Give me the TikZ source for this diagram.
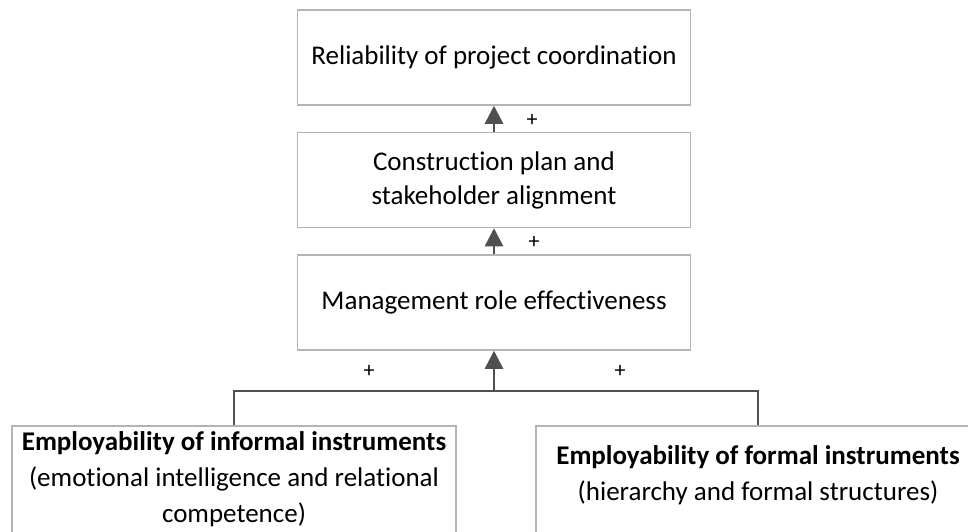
\documentclass[tikz,border=0pt]{standalone}
\usepackage{fontspec}
\setmainfont{Carlito}[RawFeature={-liga;-dlig}]
\usetikzlibrary{arrows.meta,positioning}
\definecolor{boxgray}{HTML}{B4B4B4}
\definecolor{linkgray}{HTML}{505050}
\tikzset{
    box/.style={draw=boxgray, line width=0.75pt, rectangle, align=flush center,
        minimum width=196.5pt, minimum height=47.5pt,
        font=\fontsize{13.5}{17}\selectfont},
    basebox/.style={box, anchor=north, minimum width=222pt, text width=218pt,
        inner xsep=2pt, text depth=60pt, font=\fontsize{13.5}{18}\selectfont},
    link/.style={draw=linkgray, line width=1.35pt},
    cause/.style={link, -{Triangle[width=9pt,length=9pt]}},
    sign/.style={font=\fontsize{11}{11}\selectfont, inner sep=0pt}
}

\begin{document}
\begin{tikzpicture}[x=0.5pt,y=-0.5pt]
    \useasboundingbox (0,0) rectangle (968,531);
    % chain of effects
    \node[box] (rel) at (494,57.5) {Reliability of project coordination};
    \node[box] (plan) at (494,180) {Construction plan and\\stakeholder alignment};
    \node[box] (mgmt) at (494,302.5) {Management role effectiveness};
    % the two kinds of instruments
    \node[basebox, inner ysep=2.8pt] (informal) at (234,425)
        {\textbf{Employability of informal instruments}\\(emotional intelligence and relational\\competence)};
    \node[basebox, inner ysep=9.8pt] (formal) at (758,425)
        {\textbf{Employability of formal instruments}\\(hierarchy and formal structures)};
    \coordinate (join) at (494,391);
    \draw[cause] (plan) -- (rel);
    \draw[cause] (mgmt) -- (plan);
    \draw[link] (informal.north) |- (join) -| (formal.north);
    \draw[cause] (join) -- (join |- mgmt.south);
    \node[sign] (s1) at (532,120) {+};
    \node[sign] (s2) at (534,242) {+};
    \node[sign] (s3) at (369,371) {+};
    \node[sign] (s4) at (620,371) {+};
\end{tikzpicture}
\end{document}
